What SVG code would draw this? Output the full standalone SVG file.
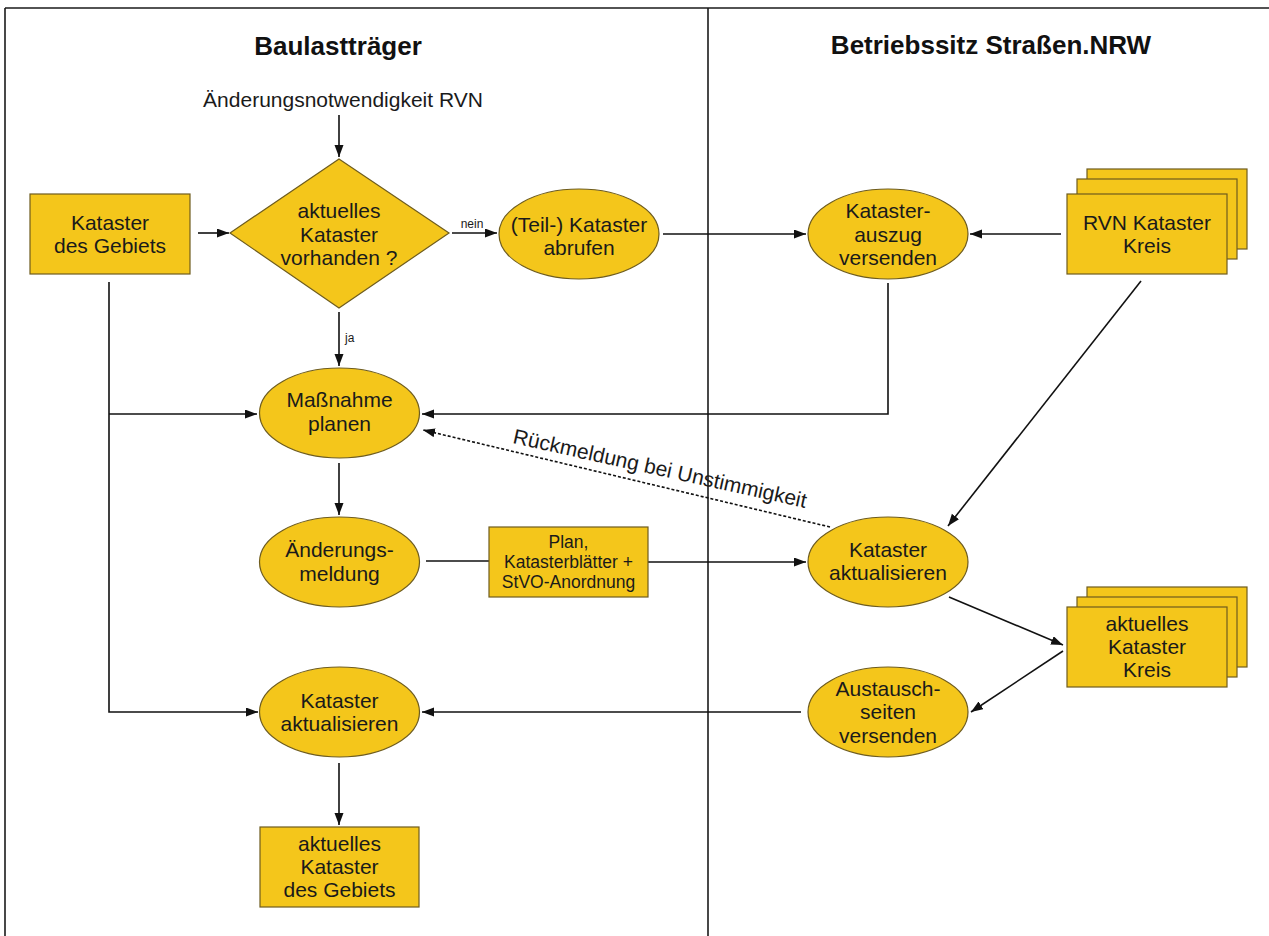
<svg xmlns="http://www.w3.org/2000/svg" width="1269" height="936" viewBox="0 0 1269 936">
<style>
.bg{fill:#ffffff}
.frame{stroke:#1a1a1a;stroke-width:1.6;fill:none}
.node{fill:#F4C61B;stroke:#6e5c1e;stroke-width:1.2}
.t{font-family:"Liberation Sans",Arial,sans-serif;font-size:21px;fill:#1a1a1a;text-anchor:middle}
.tr{font-family:"Liberation Sans",Arial,sans-serif;font-size:21px;fill:#1a1a1a;text-anchor:start}
.ts{font-family:"Liberation Sans",Arial,sans-serif;font-size:17.5px;fill:#1a1a1a;text-anchor:middle}
.title{font-family:"Liberation Sans",Arial,sans-serif;font-size:26px;font-weight:bold;fill:#111;text-anchor:middle}
.lbl{font-family:"Liberation Sans",Arial,sans-serif;font-size:12px;fill:#1a1a1a}
.c{stroke:#111;stroke-width:1.6;fill:none}
.ca{stroke:#111;stroke-width:1.6;fill:none;marker-end:url(#ah)}
.cd{stroke:#111;stroke-width:1.6;fill:none;stroke-dasharray:3 2;marker-end:url(#ah)}
</style>
<defs>
<marker id="ah" markerUnits="userSpaceOnUse" markerWidth="13" markerHeight="10" refX="12" refY="4.5" orient="auto">
<path d="M0,0 L12,4.5 L0,9 z" fill="#111"/>
</marker>
</defs>
<rect class="bg" x="0" y="0" width="1269" height="936"/>
<g id="frame">
<line class="frame" x1="5" y1="8" x2="1269" y2="8"/>
<line class="frame" x1="5" y1="8" x2="5" y2="936"/>
<line class="frame" x1="708" y1="8" x2="708" y2="936"/>
<text class="title" x="338" y="55">Baulastträger</text>
<text class="title" x="991" y="54">Betriebssitz Straßen.NRW</text>
</g>
<g id="connectors">
<line class="ca" x1="339" y1="115" x2="339" y2="157"/>
<line class="ca" x1="198" y1="233" x2="229" y2="233"/>
<line class="ca" x1="452" y1="233" x2="497" y2="233"/>
<text class="lbl" x="472" y="228" text-anchor="middle">nein</text>
<line class="ca" x1="663" y1="234" x2="806" y2="234"/>
<line class="ca" x1="1061" y1="234" x2="970" y2="234"/>
<line class="ca" x1="339" y1="312" x2="339" y2="366"/>
<text class="lbl" x="345" y="342">ja</text>
<polyline class="ca" points="109,282 109,712 258,712"/>
<line class="ca" x1="109" y1="414" x2="257" y2="414"/>
<polyline class="ca" points="888,283 888,414 422,414"/>
<line class="cd" x1="830" y1="527" x2="423" y2="430"/>
<text class="tr" x="0" y="0" transform="translate(512,443) rotate(12.5)">Rückmeldung bei Unstimmigkeit</text>
<line class="ca" x1="339" y1="463" x2="339" y2="515"/>
<line class="c" x1="426" y1="561" x2="489" y2="561"/>
<line class="ca" x1="648" y1="562" x2="806" y2="562"/>
<line class="ca" x1="1141" y1="281" x2="948" y2="526"/>
<line class="ca" x1="949" y1="597" x2="1063" y2="645"/>
<line class="ca" x1="1063" y1="651" x2="971" y2="712"/>
<line class="ca" x1="801" y1="712" x2="422" y2="712"/>
<line class="ca" x1="339" y1="763" x2="339" y2="825"/>
</g>
<g id="start-text">
<text class="t" x="343" y="107">Änderungsnotwendigkeit RVN</text>
</g>
<g id="kataster-gebiet">
<rect class="node" x="30" y="194" width="160" height="80"/>
<text class="t" x="110" y="230">Kataster</text>
<text class="t" x="110" y="253">des Gebiets</text>
</g>
<g id="decision">
<polygon class="node" points="339,159 449,233 339,308 230,233"/>
<text class="t" x="339" y="218">aktuelles</text>
<text class="t" x="339" y="242">Kataster</text>
<text class="t" x="339" y="265">vorhanden ?</text>
</g>
<g id="teil-kataster">
<ellipse class="node" cx="579" cy="234" rx="80" ry="45"/>
<text class="t" x="579" y="232">(Teil-) Kataster</text>
<text class="t" x="579" y="255">abrufen</text>
</g>
<g id="katasterauszug">
<ellipse class="node" cx="888" cy="234" rx="80" ry="45"/>
<text class="t" x="888" y="218">Kataster-</text>
<text class="t" x="888" y="242">auszug</text>
<text class="t" x="888" y="265">versenden</text>
</g>
<g id="rvn-kataster">
<rect class="node" x="1087" y="169" width="160" height="80"/>
<rect class="node" x="1077" y="179" width="160" height="80"/>
<rect class="node" x="1067" y="194" width="160" height="80"/>
<text class="t" x="1147" y="230">RVN Kataster</text>
<text class="t" x="1147" y="253">Kreis</text>
</g>
<g id="massnahme">
<ellipse class="node" cx="339.5" cy="413" rx="80" ry="45"/>
<text class="t" x="339.5" y="407">Maßnahme</text>
<text class="t" x="339.5" y="431">planen</text>
</g>
<g id="aenderungsmeldung">
<ellipse class="node" cx="339.5" cy="562" rx="80" ry="45"/>
<text class="t" x="339.5" y="557">Änderungs-</text>
<text class="t" x="339.5" y="581">meldung</text>
</g>
<g id="plan">
<rect class="node" x="489" y="527" width="159" height="70"/>
<text class="ts" x="568.5" y="548">Plan,</text>
<text class="ts" x="568.5" y="568">Katasterblätter +</text>
<text class="ts" x="568.5" y="588">StVO-Anordnung</text>
</g>
<g id="kataster-aktualisieren-r">
<ellipse class="node" cx="888" cy="562" rx="80" ry="45"/>
<text class="t" x="888" y="557">Kataster</text>
<text class="t" x="888" y="580">aktualisieren</text>
</g>
<g id="aktuelles-kataster-kreis">
<rect class="node" x="1087" y="587" width="160" height="80"/>
<rect class="node" x="1077" y="597" width="160" height="80"/>
<rect class="node" x="1067" y="607" width="160" height="80"/>
<text class="t" x="1147" y="631">aktuelles</text>
<text class="t" x="1147" y="654">Kataster</text>
<text class="t" x="1147" y="677">Kreis</text>
</g>
<g id="austauschseiten">
<ellipse class="node" cx="888" cy="712" rx="80" ry="45"/>
<text class="t" x="888" y="696">Austausch-</text>
<text class="t" x="888" y="719">seiten</text>
<text class="t" x="888" y="743">versenden</text>
</g>
<g id="kataster-aktualisieren-l">
<ellipse class="node" cx="339.5" cy="712" rx="80" ry="45"/>
<text class="t" x="339.5" y="708">Kataster</text>
<text class="t" x="339.5" y="731">aktualisieren</text>
</g>
<g id="aktuelles-kataster-gebiet">
<rect class="node" x="260" y="827" width="159" height="80"/>
<text class="t" x="339.5" y="851">aktuelles</text>
<text class="t" x="339.5" y="874">Kataster</text>
<text class="t" x="339.5" y="897">des Gebiets</text>
</g>
</svg>
